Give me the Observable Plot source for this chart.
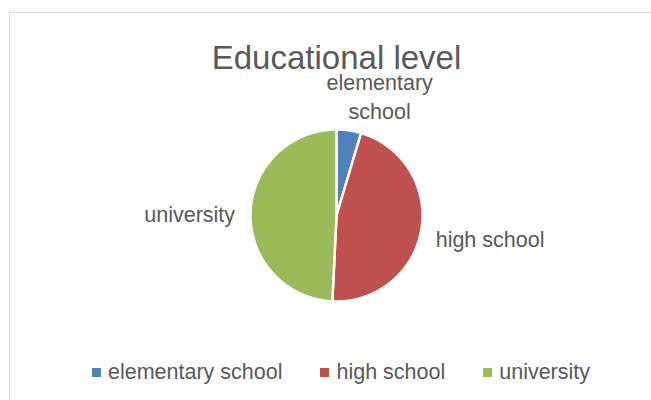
<!DOCTYPE html>
<html><head><meta charset="utf-8">
<script src="https://cdn.jsdelivr.net/npm/d3@7"></script>
<script src="https://cdn.jsdelivr.net/npm/@observablehq/plot@0.6"></script>
<style>
body{margin:0;background:#fff;font-family:"Liberation Sans",Arial,sans-serif;}
#frame{position:absolute;left:9px;top:12px;width:700px;height:400px;border:1px solid #D9D9D9;pointer-events:none;}
#chart{position:absolute;left:0;top:0;width:651px;}
.lg-swatches{display:flex !important;justify-content:center !important;align-items:center !important;height:45px !important;min-height:0 !important;margin:0 !important;padding-left:31px !important;box-sizing:border-box;font-family:"Liberation Sans",Arial,sans-serif !important;font-size:21.5px !important;color:#595959 !important;}
.lg-swatch{margin-right:38px !important;}
.lg-swatch:last-child{margin-right:0 !important;}
.lg-swatch > svg{margin-right:7px !important;}
</style></head><body>
<div id="chart"></div><div id="frame"></div>
<script>
const title = "Educational level";
const categories = ["elementary school", "high school", "university"];
const values = [9, 90, 96];
const colors = ["#4F81BD", "#C0504D", "#9BBB59"];

const total = d3.sum(values);
let acc = 0;
const slices = categories.map((c, i) => {
  const a0 = acc / total * 2 * Math.PI;
  acc += values[i];
  const a1 = acc / total * 2 * Math.PI;
  return {category: c, label: c === "elementary school" ? "elementary\nschool" : c, a0, a1, mid: (a0 + a1) / 2};
});
const pts = [];
for (const s of slices) {
  pts.push({category: s.category, x: 0, y: 0});
  const n = Math.max(2, Math.ceil((s.a1 - s.a0) / (Math.PI / 180)));
  for (let k = 0; k <= n; k++) {
    const a = s.a0 + (s.a1 - s.a0) * k / n;
    pts.push({category: s.category, x: Math.sin(a), y: Math.cos(a)});
  }
  pts.push({category: s.category, x: 0, y: 0});
}
const side = s => Math.abs(Math.sin(s.mid)) < 0.4 ? "top" : (Math.sin(s.mid) > 0 ? "right" : "left");
const font = "'Liberation Sans', Arial, sans-serif";
const txt = "#595959";

const chart = Plot.plot({
  width: 651, height: 350, margin: 0,
  x: {domain: [-1, 1], range: [250, 422], axis: null},
  y: {domain: [-1, 1], range: [301, 129], axis: null},
  color: {domain: categories, range: colors},
  style: {background: "transparent", fontFamily: font, overflow: "visible"},
  marks: [
    Plot.line(pts, {x: "x", y: "y", z: "category", fill: "category", stroke: "white", strokeWidth: 2.5, strokeLinejoin: "round", curve: "linear"}),
    Plot.text([title], {frameAnchor: "top", dx: 10.5, dy: 44.6, fontSize: 33, fill: txt}),
    Plot.text(slices.filter(s => side(s) === "right"), {x: s => 1.17 * Math.sin(s.mid), y: s => 1.17 * Math.cos(s.mid), text: "label", textAnchor: "start", dy: 7.5, fontSize: 21.5, fill: txt}),
    Plot.text(slices.filter(s => side(s) === "left"), {x: s => 1.18 * Math.sin(s.mid), y: s => 1.18 * Math.cos(s.mid), text: "label", textAnchor: "end", dy: 2, fontSize: 21.5, fill: txt}),
    Plot.text(slices.filter(s => side(s) === "top"), {x: s => 1.417 * Math.sin(s.mid), y: s => 1.417 * Math.cos(s.mid), text: "label", textAnchor: "middle", lineAnchor: "middle", lineHeight: 1.35, dx: 25.5, fontSize: 21.5, fill: txt})
  ]
});
const el = document.getElementById("chart");
el.appendChild(chart);
el.appendChild(chart.legend("color", {swatchSize: 9, className: "lg"}));
</script>
</body></html>
